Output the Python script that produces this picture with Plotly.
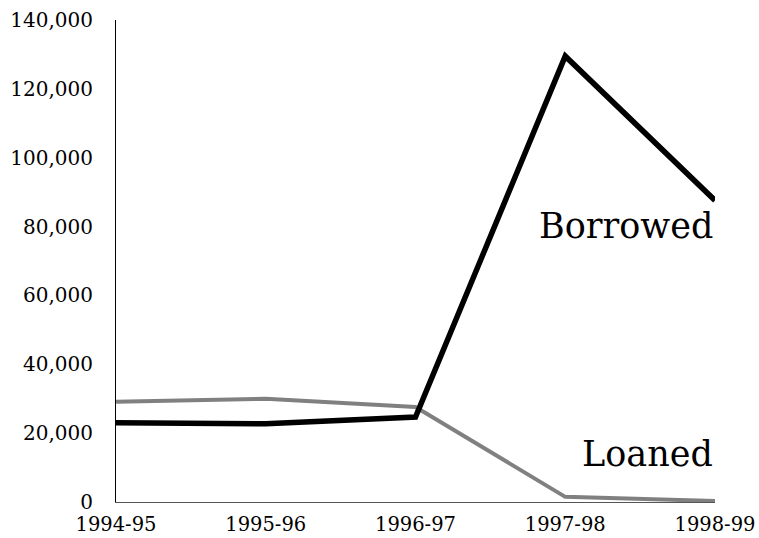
import plotly.graph_objects as go

years = ["1994-95", "1995-96", "1996-97", "1997-98", "1998-99"]
borrowed = [23000, 22700, 24700, 129500, 87600]
loaned = [29100, 30000, 27600, 1500, 300]
y_ticks = [0, 20000, 40000, 60000, 80000, 100000, 120000, 140000]

FONT = "DejaVu Serif"

fig = go.Figure()
fig.add_trace(go.Scatter(x=years, y=loaned, mode="lines", name="Loaned",
                         line=dict(color="#808080", width=4), cliponaxis=False))
fig.add_trace(go.Scatter(x=years, y=borrowed, mode="lines", name="Borrowed",
                         line=dict(color="#000000", width=5.5), cliponaxis=False))

fig.add_annotation(x=4, y=80300, xref="x", yref="y", text="Borrowed", showarrow=False,
                   xanchor="right", yanchor="middle", font=dict(family=FONT, size=35, color="black"))
fig.add_annotation(x=4, y=14000, xref="x", yref="y", text="Loaned", showarrow=False,
                   xanchor="right", yanchor="middle", font=dict(family=FONT, size=35, color="black"))

fig.update_layout(
    width=759, height=538,
    margin=dict(l=116, r=44, t=20, b=36),
    paper_bgcolor="white", plot_bgcolor="white",
    showlegend=False,
    font=dict(family=FONT, size=20, color="black"),
)
fig.update_xaxes(type="category", range=[0, 4], showgrid=False, zeroline=False,
                 showline=True, linecolor="#555555", linewidth=1, ticks="",
                 automargin=False, ticklabelstandoff=5,
                 tickfont=dict(family=FONT, size=19.5, color="black"))
fig.update_yaxes(range=[0, 140000], tickvals=y_ticks, tickformat=",", showgrid=False,
                 zeroline=False, showline=True, linecolor="black", linewidth=1, ticks="",
                 ticklabelstandoff=18, automargin=False,
                 tickfont=dict(family=FONT, size=20, color="black"))

# remove the page's default body margin so the figure fills the window exactly
fig.write_html("out.html", config={"displayModeBar": False},
               post_script="document.body.style.margin='0';document.body.style.overflow='hidden';")
